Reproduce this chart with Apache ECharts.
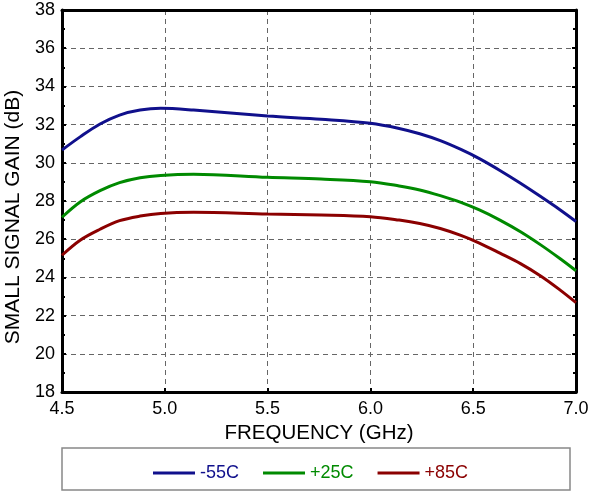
<!DOCTYPE html>
<html><head><meta charset="utf-8">
<script src="https://cdn.jsdelivr.net/npm/echarts@6/dist/echarts.min.js"></script>
<style>html,body{margin:0;padding:0;background:#fff}#c{width:590px;height:492px}</style>
</head><body><div id="c"></div>
<script>
var freqs = [4.5, 4.59, 4.685, 4.78, 4.88, 4.98, 5.14, 5.5, 5.76, 6.0, 6.14, 6.24, 6.34, 6.44, 6.53, 6.63, 6.73, 6.83, 6.92, 7.0];
var gainM55 = [30.67, 31.37, 32.03, 32.5, 32.76, 32.85, 32.76, 32.45, 32.28, 32.07, 31.8, 31.52, 31.16, 30.7, 30.22, 29.6, 28.93, 28.22, 27.56, 26.93];
var gainP25 = [27.15, 27.96, 28.54, 28.96, 29.22, 29.34, 29.4, 29.24, 29.15, 29.01, 28.79, 28.58, 28.28, 27.93, 27.53, 27.0, 26.39, 25.69, 25.0, 24.35];
var gainP85 = [25.16, 25.96, 26.52, 26.97, 27.21, 27.35, 27.41, 27.32, 27.27, 27.18, 27.0, 26.82, 26.56, 26.2, 25.8, 25.27, 24.72, 24.06, 23.36, 22.68];
var seriesNames = ['-55C', '+25C', '+85C'];
var seriesColors = ['#10108c', '#008a00', '#8b0000'];
var allGains = [gainM55, gainP25, gainP85];

function pairs(ys){ return freqs.map(function(x,i){ return [x, ys[i]]; }); }
var font = 'Liberation Sans, Arial, sans-serif';
var chart = echarts.init(document.getElementById('c'), null, {renderer:'canvas'});
var gridStyle = {show:true, lineStyle:{color:'#666', type:[5,4], width:1}};
chart.setOption({
  animation:false,
  grid:{left:62, top:10, right:14, bottom:100, containLabel:false, outerBoundsMode:'none'},
  legend:{
    left:148, top:459, itemWidth:42, itemHeight:3, itemGap:24, icon:'rect',
    textStyle:{fontFamily:font, fontSize:18},
    data: seriesNames.map(function(n,i){ return {name:n, textStyle:{color:seriesColors[i]}}; })
  },
  graphic:[{type:'rect', shape:{x:62, y:448, width:508, height:42},
    style:{fill:'#fff', stroke:'#888', lineWidth:1.5}, z:-1}],
  xAxis:[{
    type:'value', min:4.5, max:7.0, interval:0.5,
    name:'FREQUENCY (GHz)', nameLocation:'middle', nameGap:22,
    nameTextStyle:{fontFamily:font, fontSize:20.5, color:'#000'},
    axisLine:{show:true, lineStyle:{color:'#000', width:3}},
    axisTick:{show:true, inside:true, length:4, lineStyle:{color:'#000', width:2}},
    axisLabel:{fontFamily:font, fontSize:18, color:'#000', margin:8,
      formatter:function(v){ return v.toFixed(1); }},
    splitLine:gridStyle
  },{
    type:'value', position:'top', min:4.5, max:7.0, interval:0.5,
    axisLine:{show:true, lineStyle:{color:'#000', width:3}},
    axisTick:{show:false}, axisLabel:{show:false}, splitLine:{show:false}
  }],
  yAxis:[{
    type:'value', min:18, max:38, interval:2,
    name:'SMALL SIGNAL GAIN (dB)', nameLocation:'middle', nameGap:31,
    nameTextStyle:{fontFamily:font, fontSize:21, color:'#000', padding:[0,32,0,0]},
    axisLine:{show:true, lineStyle:{color:'#000', width:3}},
    axisTick:{show:true, inside:true, length:4, lineStyle:{color:'#000', width:2}},
    minorTick:{show:true, splitNumber:2, length:3, lineStyle:{color:'#000', width:2}},
    axisLabel:{fontFamily:font, fontSize:18, color:'#000', margin:7},
    splitLine:gridStyle
  },{
    type:'value', position:'right', min:18, max:38, interval:2,
    axisLine:{show:true, lineStyle:{color:'#000', width:3}},
    axisTick:{show:true, inside:true, length:4, lineStyle:{color:'#000', width:2}},
    minorTick:{show:true, splitNumber:2, length:3, lineStyle:{color:'#000', width:2}},
    axisLabel:{show:false}, splitLine:{show:false}
  }],
  series: seriesNames.map(function(n,i){
    return {name:n, type:'line', symbol:'none', smooth:0.35,
      data:pairs(allGains[i]), color:seriesColors[i],
      lineStyle:{width:3, color:seriesColors[i]}};
  })
});
</script></body></html>
